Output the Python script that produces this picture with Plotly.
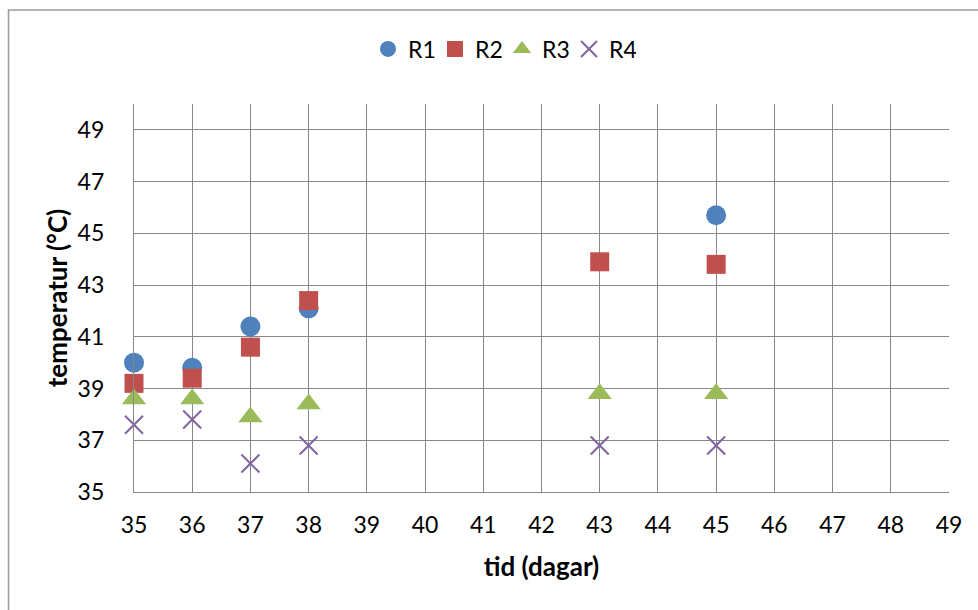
import plotly.graph_objects as go

days = [35, 36, 37, 38, 43, 45]
r1_x = [35, 36, 37, 38, 45]
r1_y = [40.0, 39.8, 41.4, 42.1, 45.7]
r2_y = [39.2, 39.4, 40.6, 42.4, 43.9, 43.8]
r3_y = [38.6, 38.6, 37.9, 38.4, 38.8, 38.8]
r4_y = [37.6, 37.8, 36.1, 36.8, 36.8, 36.8]
y_ticks = [35, 37, 39, 41, 43, 45, 47, 49]
x_ticks = list(range(35, 50))

FONT = "Lato, Calibri, Carlito, sans-serif"
GRID = "#878787"
W, H = 978, 610
ML, MR, MT, MB = 134, 29, 104, 118

fig = go.Figure()
fig.add_trace(go.Scatter(x=r1_x, y=r1_y, mode="markers", name="R1", cliponaxis=False,
                         marker=dict(symbol="circle", size=20, color="#4F81BD")))
fig.add_trace(go.Scatter(x=days, y=r2_y, mode="markers", name="R2", cliponaxis=False,
                         marker=dict(symbol="square", size=19, color="#C0504D")))
fig.add_trace(go.Scatter(x=days, y=r3_y, mode="markers", name="R3", cliponaxis=False,
                         marker=dict(symbol="triangle-up", size=21, color="#9BBB59")))
fig.add_trace(go.Scatter(x=days, y=r4_y, mode="markers", name="R4", cliponaxis=False,
                         marker=dict(symbol="x-thin", size=18, color="#8064A2",
                                     line=dict(color="#8064A2", width=2))))

pw = W - ML - MR
ph = H - MT - MB
# chart-area border (left and top edges visible)
x0 = (8.5 - ML) / pw
y1 = 1 + (MT - 10) / ph
fig.add_shape(type="rect", xref="paper", yref="paper", x0=x0, x1=1 + (MR + 20) / pw,
              y0=-(MB + 20) / ph, y1=y1, line=dict(color="#9a9a9a", width=1.5),
              fillcolor="rgba(0,0,0,0)", layer="below")

fig.update_layout(
    width=W, height=H,
    margin=dict(l=ML, r=MR, t=MT, b=MB),
    paper_bgcolor="white", plot_bgcolor="white",
    font=dict(family=FONT, size=23, color="#000000"),
    showlegend=True,
    legend=dict(orientation="h", x=(502 - ML) / pw, xanchor="center", y=1 + (MT - 49) / ph,
                yanchor="middle", font=dict(family=FONT, size=23),
                itemwidth=30, entrywidth=22, tracegroupgap=0),
    xaxis=dict(range=[35, 49], tickvals=x_ticks, showgrid=True, gridcolor=GRID,
               gridwidth=1.3, zeroline=False, showline=True, linecolor=GRID,
               linewidth=1.3, ticks="", ticklabelstandoff=12,
               title=dict(text="<b>tid (dagar)</b>", font=dict(family=FONT, size=26),
                          standoff=21)),
    yaxis=dict(range=[35, 50], tickvals=y_ticks, showgrid=True, gridcolor=GRID,
               gridwidth=1.3, zeroline=False, showline=True, linecolor=GRID,
               linewidth=1.3, ticks="", ticklabelstandoff=24,
               title=dict(text="<b>temperatur (°C)</b>", font=dict(family=FONT, size=26),
                          standoff=2)),
)

fig.write_html("out.html")
